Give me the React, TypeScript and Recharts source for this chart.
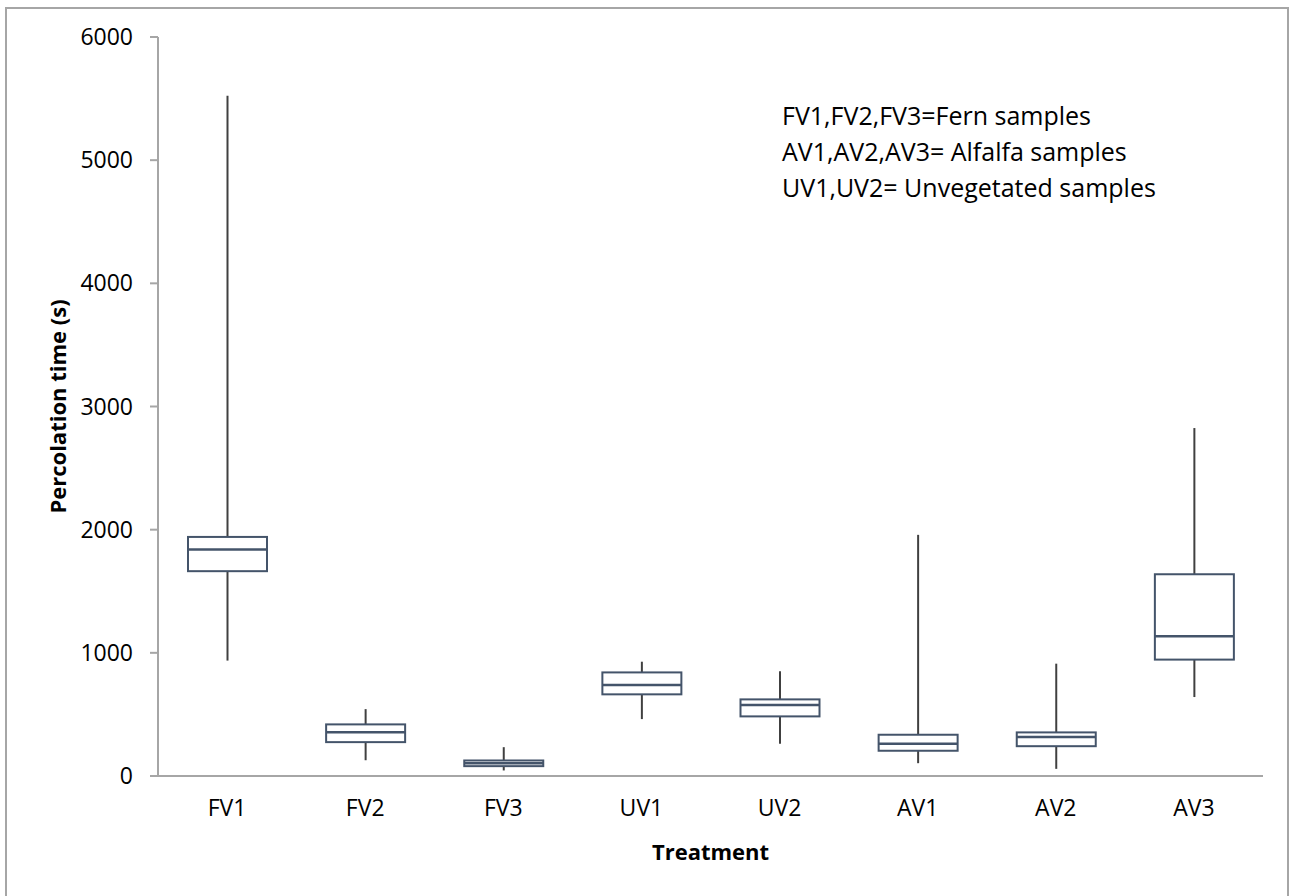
import React from 'react';
import { ComposedChart, Bar, XAxis, YAxis, Label } from 'recharts';

const categories = ['FV1', 'FV2', 'FV3', 'UV1', 'UV2', 'AV1', 'AV2', 'AV3'];
const minValues = [937, 128, 45, 462, 262, 104, 58, 641];
const q1Values = [1663, 275, 80, 663, 484, 205, 242, 945];
const medianValues = [1839, 356, 104, 738, 576, 262, 316, 1134];
const q3Values = [1941, 419, 126, 841, 622, 335, 354, 1638];
const maxValues = [5524, 543, 234, 928, 850, 1958, 912, 2825];
const yTicks = [0, 1000, 2000, 3000, 4000, 5000, 6000];
const noteLines = [
  'FV1,FV2,FV3=Fern samples',
  'AV1,AV2,AV3= Alfalfa samples',
  'UV1,UV2= Unvegetated samples',
];

const data = categories.map((name, i) => ({
  name,
  range: [minValues[i], maxValues[i]],
  min: minValues[i],
  q1: q1Values[i],
  median: medianValues[i],
  q3: q3Values[i],
  max: maxValues[i],
}));

const FONT = '"Open Sans", sans-serif';
const BOX = '#44546a';
const WHISKER = '#404040';
const AXIS = '#a6a6a6';

const BoxShape = (props: any) => {
  const { x, y, width, height, payload } = props;
  const top = Math.min(y, y + height);
  const bottom = Math.max(y, y + height);
  const span = payload.max - payload.min;
  const toY = (v: number) => bottom - ((v - payload.min) / span) * (bottom - top);
  const cx = x + width / 2;
  const yq1 = toY(payload.q1);
  const yq3 = toY(payload.q3);
  const ymed = toY(payload.median);
  return (
    <g>
      <line x1={cx} x2={cx} y1={top} y2={yq3} stroke={WHISKER} strokeWidth={2} />
      <line x1={cx} x2={cx} y1={yq1} y2={bottom} stroke={WHISKER} strokeWidth={2} />
      <rect x={x} y={yq3} width={width} height={yq1 - yq3} fill="#ffffff" stroke={BOX} strokeWidth={2} />
      <line x1={x} x2={x + width} y1={ymed} y2={ymed} stroke={BOX} strokeWidth={2.5} />
    </g>
  );
};

const YTitle = (props: any) => {
  const vb = props.viewBox || {};
  const cx = 57;
  const cy = vb.y + vb.height / 2;
  return (
    <text
      x={cx}
      y={cy}
      transform={`rotate(-90, ${cx}, ${cy})`}
      textAnchor="middle"
      dominantBaseline="central"
      fontFamily={FONT}
      fontSize={22}
      fontWeight="bold"
      fill="#000"
    >
      Percolation time (s)
    </text>
  );
};

const XTitle = (props: any) => {
  const vb = props.viewBox || {};
  const cx = vb.x + vb.width / 2;
  return (
    <text
      x={cx}
      y={vb.y + 84}
      textAnchor="middle"
      fontFamily={FONT}
      fontSize={22}
      fontWeight="bold"
      fill="#000"
    >
      Treatment
    </text>
  );
};

export default function App() {
  return (
    <div
      style={{
        position: 'absolute',
        left: 0,
        top: 0,
        width: 1292,
        height: 896,
        background: '#fff',
        overflow: 'hidden',
      }}
    >
      <div style={{ position: 'absolute', left: 0, top: 0 }}>
        <ComposedChart
          width={1292}
          height={896}
          data={data}
          margin={{ top: 37, right: 29, bottom: 30, left: 58 }}
        >
          <XAxis
            dataKey="name"
            tickLine={false}
            axisLine={{ stroke: AXIS, strokeWidth: 2 }}
            tick={{ fill: '#000', fontSize: 23, fontFamily: FONT }}
            tickMargin={18}
            interval={0}
            height={90}
          >
            <Label content={<XTitle />} />
          </XAxis>
          <YAxis
            type="number"
            domain={[0, 6000]}
            ticks={yTicks}
            width={100}
            axisLine={{ stroke: AXIS, strokeWidth: 2 }}
            tickLine={{ stroke: AXIS, strokeWidth: 2 }}
            tickSize={8}
            tickMargin={17}
            tick={{ fill: '#000', fontSize: 23, fontFamily: FONT }}
            allowDataOverflow
          >
            <Label content={<YTitle />} />
          </YAxis>
          <Bar dataKey="range" barSize={79} shape={<BoxShape />} isAnimationActive={false} />
        </ComposedChart>
      </div>
      <div
        style={{
          position: 'absolute',
          left: 782,
          top: 97,
          fontFamily: FONT,
          fontSize: 25,
          lineHeight: '36px',
          color: '#000',
          whiteSpace: 'nowrap',
        }}
      >
        {noteLines.map((t) => (
          <div key={t}>{t}</div>
        ))}
      </div>
      <svg
        width={1292}
        height={896}
        style={{ position: 'absolute', left: 0, top: 0, pointerEvents: 'none' }}
      >
        <path d="M 6 896 L 6 8 L 1288 8 L 1288 896" fill="none" stroke="#a6a6a6" strokeWidth={2} />
      </svg>
    </div>
  );
}
